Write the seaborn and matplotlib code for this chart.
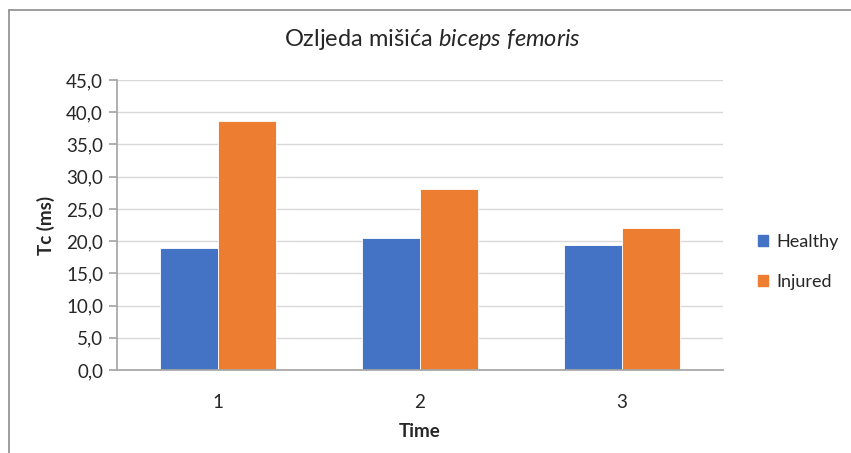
import matplotlib

matplotlib.use("Agg")
import matplotlib.pyplot as plt
from matplotlib.lines import Line2D
from matplotlib.ticker import FuncFormatter, MultipleLocator
import pandas as pd
import seaborn as sns

# values
times = ["1", "2", "3"]
healthy = [19.0, 20.5, 19.4]
injured = [38.7, 28.1, 22.0]
groups = ["Healthy", "Injured"]
colors = ["#4472C4", "#ED7D31"]

df = pd.DataFrame({
    "Time": times * 2,
    "group": [groups[0]] * len(times) + [groups[1]] * len(times),
    "Tc": healthy + injured,
})

sns.set_theme(style="white")
plt.rcParams["font.family"] = ["Lato", "DejaVu Sans"]
plt.rcParams["mathtext.fontset"] = "custom"
plt.rcParams["mathtext.rm"] = "Lato"
plt.rcParams["mathtext.it"] = "Lato:italic"

text_color = "#262626"
fs = 13.5
fig = plt.figure(figsize=(8.51, 4.53), dpi=100)
ax = fig.add_axes([117 / 851, 83 / 453, 606 / 851, 290 / 453])

sns.barplot(
    data=df, x="Time", y="Tc", hue="group", palette=colors, saturation=1,
    width=0.574, gap=0, edgecolor="white", linewidth=0.6,
    ax=ax, legend=False,
)

ax.set_ylim(0, 45)
ax.yaxis.set_major_locator(MultipleLocator(5))
ax.yaxis.set_major_formatter(FuncFormatter(lambda v, _: f"{v:.1f}".replace(".", ",")))
ax.grid(axis="y", color="#D9D9D9", linewidth=1.0)
ax.set_axisbelow(True)
for side in ["top", "right"]:
    ax.spines[side].set_visible(False)
ax.spines["left"].set_color("#A6A6A6")
ax.spines["bottom"].set_color("#A6A6A6")
ax.tick_params(axis="y", which="major", left=True, length=6, color="#A6A6A6",
               labelsize=fs, labelcolor=text_color, pad=4)
ax.tick_params(axis="x", bottom=False, labelsize=fs, labelcolor=text_color, pad=11)

ax.set_xlabel("Time", fontsize=fs, fontweight="bold", color=text_color, labelpad=9)
ax.set_ylabel("Tc (ms)", fontsize=fs, fontweight="bold", color=text_color, labelpad=8)

fig.text(432 / 851, 1 - 40 / 453, r"Ozljeda mišića $\mathit{biceps\ femoris}$",
         ha="center", va="center", fontsize=17, color=text_color)

handles = [plt.Rectangle((0, 0), 1, 1, color=c) for c in colors]
fig.legend(handles, groups, loc="center left", bbox_to_anchor=(742 / 851, 1 - 262 / 453),
           frameon=False, fontsize=13, handlelength=0.55, handleheight=0.55,
           handletextpad=0.45, labelspacing=1.3, labelcolor=text_color)

# chart border (left and top edges visible in the reference)
fig.add_artist(Line2D([9 / 851, 9 / 851], [0, 1 - 10 / 453], color="#8C8C8C", linewidth=1.2))
fig.add_artist(Line2D([9 / 851, 1], [1 - 10 / 453, 1 - 10 / 453], color="#8C8C8C", linewidth=1.2))

fig.savefig("out.png", dpi=100)
